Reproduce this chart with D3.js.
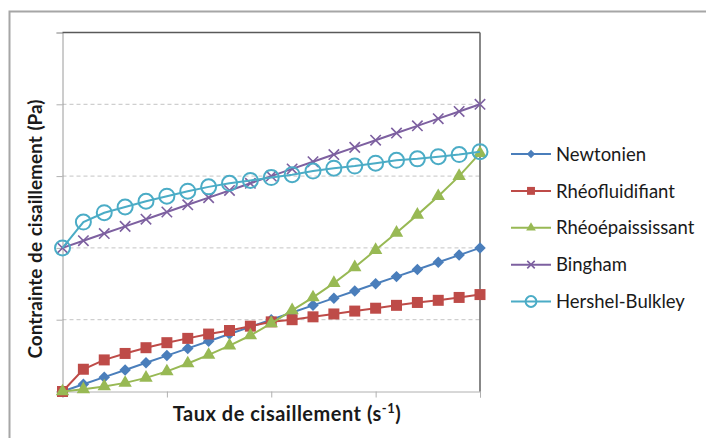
<!DOCTYPE html>
<html>
<head>
<meta charset="utf-8">
<script src="https://cdn.jsdelivr.net/npm/d3@7"></script>
<style>
  html, body { margin: 0; padding: 0; background: #fff; }
  svg { display: block; }
</style>
</head>
<body>
<svg id="chart" width="706" height="438"></svg>
<script>
// ---- data ----
const shearRates = [0,1,2,3,4,5,6,7,8,9,10,11,12,13,14,15,16,17,18,19,20];
const xTicks = [0,5,10,15,20];
const yTicks = [0,1,2,3,4,5];
const seriesNames = ["Newtonien","Rhéofluidifiant","Rhéoépaississant","Bingham","Hershel-Bulkley"];
const newtonien = [0,0.1,0.2,0.3,0.4,0.5,0.6,0.7,0.8,0.9,1.0,1.1,1.2,1.3,1.4,1.5,1.6,1.7,1.8,1.9,2.0];
const rheofluidifiant = [0,0.31,0.44,0.53,0.61,0.68,0.74,0.80,0.85,0.91,0.97,1.0,1.04,1.08,1.12,1.16,1.20,1.24,1.27,1.31,1.35];
const rheoepaississant = [0,0.03,0.07,0.12,0.19,0.28,0.39,0.51,0.64,0.78,0.95,1.13,1.31,1.51,1.73,1.97,2.21,2.46,2.72,3.0,3.32];
const bingham = [2.0,2.1,2.2,2.3,2.4,2.5,2.6,2.7,2.8,2.9,3.0,3.1,3.2,3.3,3.4,3.5,3.6,3.7,3.8,3.9,4.0];
const hershel = [2.0,2.36,2.49,2.57,2.65,2.72,2.79,2.85,2.90,2.94,2.98,3.02,3.07,3.11,3.14,3.18,3.22,3.24,3.27,3.30,3.34];
const seriesValues = [newtonien, rheofluidifiant, rheoepaississant, bingham, hershel];
const colors = ["#4A7EBB","#BE4B48","#98B954","#7D60A0","#4BACC6"];
const markers = ["diamond","square","triangle","cross","circle"];

const svg = d3.select("#chart");
const font = "Lato, 'Open Sans', sans-serif";

// outer frame
svg.append("rect").attr("x",9.5).attr("y",11.5).attr("width",740).attr("height",460)
  .attr("fill","none").attr("stroke","#a6a6a6").attr("stroke-width",2);

const x = d3.scaleLinear().domain([0,20]).range([62.5,480]);
const y = d3.scaleLinear().domain([0,5]).range([391.5,32.5]);

// gridlines
svg.append("g").selectAll("line").data(yTicks.filter(d=>d>0 && d<5)).join("line")
  .attr("x1",x(0)).attr("x2",x(20)).attr("y1",d=>y(d)).attr("y2",d=>y(d))
  .attr("stroke","#c4c4c4").attr("stroke-width",1).attr("stroke-dasharray","4,3");

// axes
const xAxis = d3.axisBottom(x).tickValues(xTicks).tickSize(6).tickFormat("");
const gx = svg.append("g").attr("transform",`translate(0,${y(0)})`).call(xAxis);
gx.select(".domain").attr("stroke","#b0b0b0");
gx.selectAll(".tick line").attr("stroke","#b0b0b0");

const yAxis = d3.axisLeft(y).tickValues(yTicks).tickSize(6).tickFormat("");
const gy = svg.append("g").attr("transform",`translate(${x(0)},0)`).call(yAxis);
gy.select(".domain").attr("stroke","#9a9a9a");
gy.selectAll(".tick line").attr("stroke","#b0b0b0");

// plot-area border top and right (darker)
svg.append("line").attr("x1",x(0)).attr("x2",x(20)).attr("y1",y(5)).attr("y2",y(5))
  .attr("stroke","#595959").attr("stroke-width",1.3);
svg.append("line").attr("x1",x(20)).attr("x2",x(20)).attr("y1",y(5)).attr("y2",y(0))
  .attr("stroke","#6a6a6a").attr("stroke-width",1.6);

function drawMarker(g, type, color, cx, cy, scale) {
  const s = scale || 1;
  if (type === "diamond") {
    g.append("path").attr("d", d3.symbol(d3.symbolSquare, 66*s*s)())
      .attr("transform",`translate(${cx},${cy}) rotate(45)`).attr("fill",color);
  } else if (type === "square") {
    g.append("path").attr("d", d3.symbol(d3.symbolSquare, 121*s*s)())
      .attr("transform",`translate(${cx},${cy})`).attr("fill",color);
  } else if (type === "triangle") {
    g.append("path").attr("d", d3.symbol(d3.symbolTriangle, 78*s*s)())
      .attr("transform",`translate(${cx},${cy})`).attr("fill",color);
  } else if (type === "cross") {
    const r = 5.2*s;
    g.append("path").attr("d",`M${-r},${-r}L${r},${r}M${-r},${r}L${r},${-r}`)
      .attr("transform",`translate(${cx},${cy})`).attr("stroke",color).attr("stroke-width",1.6).attr("fill","none");
  } else if (type === "circle") {
    g.append("circle").attr("cx",cx).attr("cy",cy).attr("r",7.5*s)
      .attr("fill","none").attr("stroke",color).attr("stroke-width",2);
  }
}

const line = d3.line().x((d,i)=>x(shearRates[i])).y(d=>y(d));

seriesValues.forEach((vals, si) => {
  const g = svg.append("g");
  g.append("path").datum(vals).attr("d",line).attr("fill","none")
    .attr("stroke",colors[si]).attr("stroke-width",2);
  vals.forEach((v,i) => drawMarker(g, markers[si], colors[si], x(shearRates[i]), y(v), 1));
});

// legend
const legendY = d3.scalePoint().domain(seriesNames).range([154,301.5]);
const lg = svg.append("g");
seriesNames.forEach((name, si) => {
  const ly = legendY(name);
  lg.append("line").attr("x1",511).attr("x2",551).attr("y1",ly).attr("y2",ly)
    .attr("stroke",colors[si]).attr("stroke-width",2);
  drawMarker(lg, markers[si], colors[si], 531, ly, 0.72);
  lg.append("text").attr("x",556).attr("y",ly).attr("dy","0.36em")
    .attr("font-family",font).attr("font-size",18.5).attr("fill","#1a1a1a").text(name);
});

// axis titles
const xt = svg.append("text").attr("x",287).attr("y",421).attr("text-anchor","middle")
  .attr("font-family",font).attr("font-size",20).attr("font-weight","bold").attr("fill","#1a1a1a")
  .attr("letter-spacing",0.5);
xt.append("tspan").text("Taux de cisaillement (s");
xt.append("tspan").attr("dy",-8).attr("font-size",13).text("-1");
xt.append("tspan").attr("dy",8).text(")");

svg.append("text").attr("transform","translate(42,229) rotate(-90)").attr("text-anchor","middle")
  .attr("font-family",font).attr("font-size",19).attr("font-weight","bold").attr("fill","#1a1a1a")
  .attr("word-spacing",1)
  .text("Contrainte de cisaillement (Pa)");
</script>
</body>
</html>
